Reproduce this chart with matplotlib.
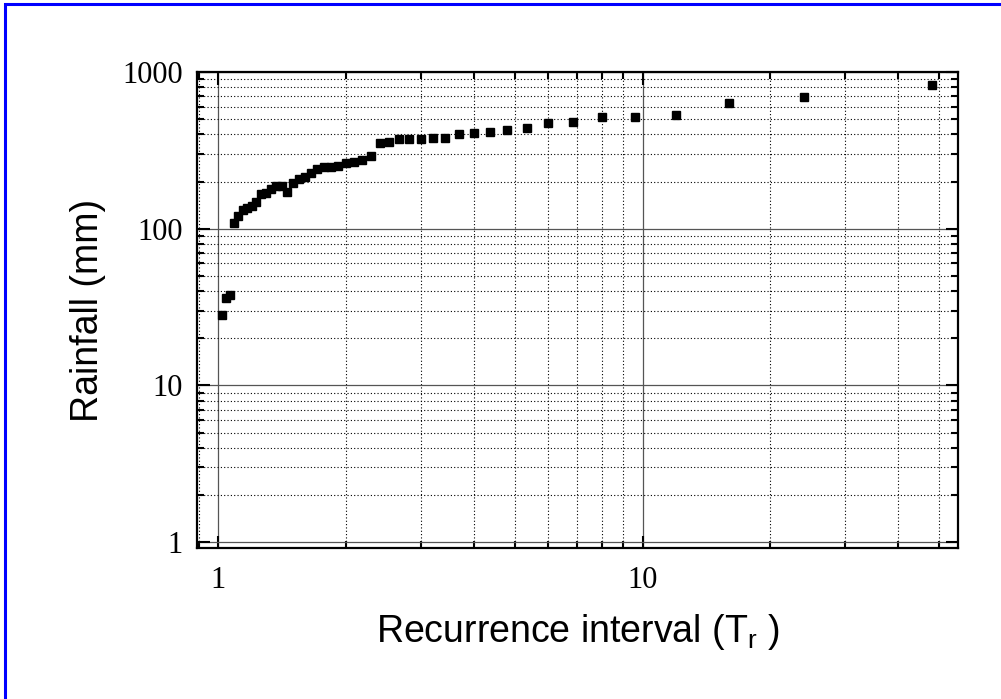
import matplotlib
matplotlib.use("Agg")
import matplotlib.pyplot as plt
from matplotlib.patches import Rectangle
from matplotlib.ticker import LogLocator, NullFormatter, FixedLocator, FixedFormatter

# recurrence interval (Tr) and rainfall (mm)
intervalo = [1.021, 1.043, 1.067, 1.091, 1.116, 1.143, 1.171, 1.200, 1.231, 1.263,
             1.297, 1.333, 1.371, 1.412, 1.455, 1.500, 1.548, 1.600, 1.655, 1.714,
             1.778, 1.846, 1.920, 2.000, 2.087, 2.180, 2.286, 2.400, 2.530, 2.670,
             2.820, 3.000, 3.200, 3.430, 3.690, 4.000, 4.360, 4.800, 5.330, 6.000,
             6.860, 8.000, 9.600, 12.00, 16.00, 24.00, 48.00]
lluvia = [28.2, 36.2, 38.0, 108, 120.5, 131.5, 135.5, 138.7, 149, 166,
          169.6, 180, 187, 187, 171.4, 195.5, 207.4, 215, 226, 242,
          247, 248, 251, 264, 268, 275, 293, 353, 357, 373,
          373, 373, 378, 380, 403, 411, 417, 427, 440, 473,
          483, 517, 517, 532, 638, 690, 823]

x_ticks = [1, 10]
x_labels = ["1", "10"]
y_ticks = [1, 10, 100, 1000]
y_labels = ["1", "10", "100", "1000"]

plt.rcParams['mathtext.fontset'] = 'custom'
plt.rcParams['mathtext.rm'] = 'Liberation Sans'

W, H = 1001, 699
fig = plt.figure(figsize=(W / 100, H / 100), dpi=100)

# blue frame of the original page (only top and left visible)
fig.patches.append(Rectangle((4.5 / W, -0.1), 1.2, 1.1 - 4.5 / H, transform=fig.transFigure,
                             fill=False, edgecolor='#0000ff', linewidth=2.2))

ax = fig.add_axes([197 / W, (H - 548) / H, (958 - 197) / W, (548 - 72) / H])
ax.set_xscale('log')
ax.set_yscale('log')

ax.plot(intervalo, lluvia, linestyle='none', marker='s', markersize=5.6,
        color='black', zorder=3)

ax.set_xlim(0.892, 55.3)
ax.set_ylim(0.916, 1000)

ax.xaxis.set_major_locator(FixedLocator(x_ticks))
ax.xaxis.set_major_formatter(FixedFormatter(x_labels))
ax.yaxis.set_major_locator(FixedLocator(y_ticks))
ax.yaxis.set_major_formatter(FixedFormatter(y_labels))
ax.xaxis.set_minor_locator(LogLocator(base=10, subs=range(2, 10)))
ax.yaxis.set_minor_locator(LogLocator(base=10, subs=range(2, 10)))
ax.xaxis.set_minor_formatter(NullFormatter())
ax.yaxis.set_minor_formatter(NullFormatter())

ax.grid(True, which='major', color='#555555', linestyle='-', linewidth=0.9)
ax.grid(True, which='minor', color='black', linestyle=(0, (1, 2)), linewidth=0.8)

for s in ax.spines.values():
    s.set_linewidth(1.6)

ax.tick_params(which='both', direction='in', top=True, right=True, width=1.5)
ax.tick_params(which='major', length=9, pad=10)
ax.tick_params(axis='x', which='major', pad=13)
ax.tick_params(which='minor', length=5)
for lab in ax.get_xticklabels() + ax.get_yticklabels():
    lab.set_fontfamily('Liberation Serif')
    lab.set_fontsize(22)

ax.set_ylabel("Rainfall (mm)", fontfamily='Liberation Sans', fontsize=27, labelpad=12)
ax.set_xlabel("Recurrence interval (T$_\\mathregular{r}$ )", fontfamily='Liberation Sans',
              fontsize=27, labelpad=12)

fig.savefig("out.png", dpi=100)
